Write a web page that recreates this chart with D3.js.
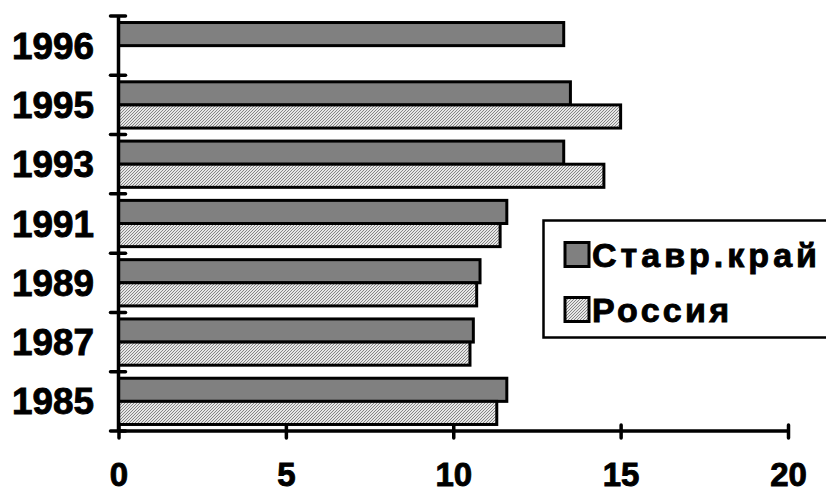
<!DOCTYPE html>
<html><head><meta charset="utf-8">
<script src="https://cdn.jsdelivr.net/npm/d3@7"></script>
<style>
html,body{margin:0;padding:0;background:#fff;}
svg{display:block;}
text{font-family:"Liberation Sans",Arial,sans-serif;font-weight:bold;fill:#000;stroke:#000;stroke-width:0.9px;}
</style></head>
<body>
<svg id="chart" width="826" height="492"></svg>
<script>
const years = ["1996","1995","1993","1991","1989","1987","1985"];
const stavr = [13.3, 13.5, 13.3, 11.6, 10.8, 10.6, 11.6];
const russia = [null, 15.0, 14.5, 11.4, 10.7, 10.5, 11.3];
const xTicks = [0, 5, 10, 15, 20];
const seriesNames = ["Ставр.край", "Россия"];

const svg = d3.select("#chart");
const defs = svg.append("defs");
const pat = defs.append("pattern").attr("id","hatch").attr("patternUnits","userSpaceOnUse")
  .attr("width",3).attr("height",3);
pat.append("rect").attr("width",3).attr("height",3).attr("fill","#e6e6e6");
pat.append("path").attr("d","M-1,1 L1,-1 M0,3 L3,0 M2,4 L4,2")
  .attr("stroke","#7a7a7a").attr("stroke-width",0.9);

const x = d3.scaleLinear().domain([0,20]).range([118.5,788]);
const y = d3.scaleBand().domain(years).range([16,431]).paddingInner(0).paddingOuter(0);
const bw = y.bandwidth();
const off = bw*0.11, bh = bw*0.39;

const g = svg.append("g");
g.selectAll("rect.s").data(years.map((yr,i)=>({yr,v:stavr[i]})).filter(d=>d.v!=null))
  .enter().append("rect").attr("class","s")
  .attr("x",x(0)).attr("y",d=>y(d.yr)+off).attr("width",d=>x(d.v)-x(0)).attr("height",bh)
  .attr("fill","#808080").attr("stroke","#000").attr("stroke-width",3);
g.selectAll("rect.r").data(years.map((yr,i)=>({yr,v:russia[i]})).filter(d=>d.v!=null))
  .enter().append("rect").attr("class","r")
  .attr("x",x(0)).attr("y",d=>y(d.yr)+off+bh).attr("width",d=>x(d.v)-x(0)).attr("height",bh)
  .attr("fill","url(#hatch)").attr("stroke","#000").attr("stroke-width",3);

// Y axis
const yAxis = d3.axisLeft(y).tickSize(0).tickFormat(()=>"");
const ya = svg.append("g").attr("transform",`translate(${x(0)},0)`).call(yAxis);
ya.select(".domain").remove();
ya.append("line").attr("x1",0).attr("x2",0).attr("y1",16).attr("y2",431)
  .attr("stroke","#000").attr("stroke-width",3.5);
const yTickPos = years.map(d=>y(d)).concat([431]);
ya.selectAll("line.yt").data(yTickPos).enter().append("line").attr("class","yt")
  .attr("x1",-8).attr("x2",7).attr("y1",d=>d).attr("y2",d=>d)
  .attr("stroke","#000").attr("stroke-width",3.5).attr("stroke-linecap","round");
svg.append("g").selectAll("text").data(years).enter().append("text")
  .attr("x",94).attr("y",d=>y(d)+bw/2+13).attr("text-anchor","end")
  .attr("font-size",36).attr("textLength",82).attr("lengthAdjust","spacingAndGlyphs")
  .text(d=>d);

// X axis
const xAxis = d3.axisBottom(x).tickValues(xTicks).tickSize(0).tickFormat(d3.format("d"));
const xa = svg.append("g").attr("transform","translate(0,431)").call(xAxis);
xa.select(".domain").remove();
xa.append("line").attr("x1",x(0)).attr("x2",x(20)).attr("y1",0).attr("y2",0)
  .attr("stroke","#000").attr("stroke-width",3.5);
xa.selectAll(".tick line").attr("y1",-6).attr("y2",7).attr("stroke","#000")
  .attr("stroke-width",3.5).attr("stroke-linecap","round");
xa.selectAll(".tick text").attr("y",55).attr("dy",null).attr("font-size",33)
  .attr("font-family","'Liberation Sans',Arial,sans-serif").attr("font-weight","bold")
  .attr("fill","#000").attr("stroke","#000").attr("stroke-width",0.9);

// Legend
const lg = svg.append("g");
lg.append("rect").attr("x",543.5).attr("y",220.5).attr("width",300).attr("height",117)
  .attr("fill","#fff").attr("stroke","#000").attr("stroke-width",2.5);
const legFills = ["#808080","url(#hatch)"];
const legY = [242.5, 297.5];
const legLen = [225, 137];
seriesNames.forEach((n,i)=>{
  lg.append("rect").attr("x",565).attr("y",legY[i]).attr("width",24).attr("height",24)
    .attr("fill",legFills[i]).attr("stroke","#000").attr("stroke-width",3);
  lg.append("text").attr("x",592).attr("y",legY[i]+24).attr("font-size",34)
    .attr("textLength",legLen[i]).attr("lengthAdjust","spacing").text(n);
});
</script>
</body></html>
